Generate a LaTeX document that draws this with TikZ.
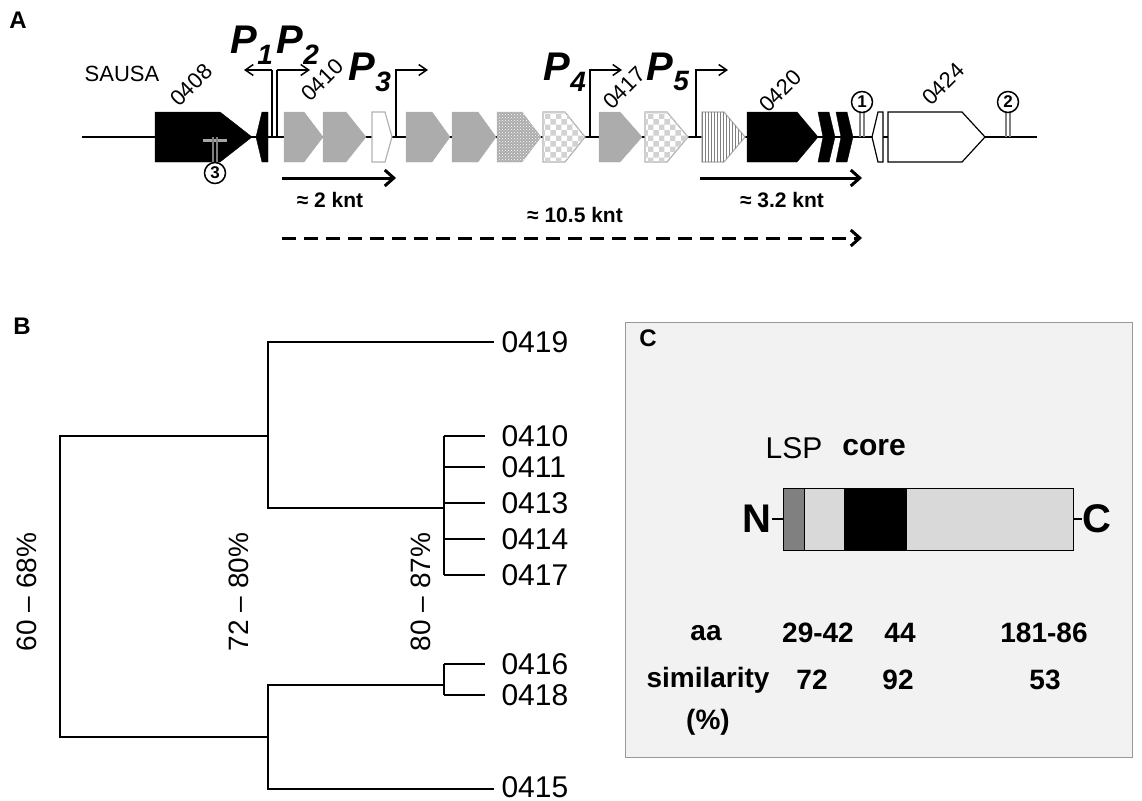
\documentclass[tikz,border=0pt]{standalone}
\usepackage{fontspec}
\setmainfont{Liberation Sans}
\usetikzlibrary{arrows.meta,patterns,positioning}
\newcommand{\fs}[1]{\fontsize{#1}{#1}\selectfont}
% gene arrow: left, body end, tip
\newcommand{\genearrow}[4]{\draw[#4] (#1,112) -- (#2,112) -- (#3,137) -- (#2,162) -- (#1,162) -- cycle;}
\newcommand{\term}[3]{%
  \draw[line width=1.2pt,gray] (#1-2,137) -- (#1-2,#2+9) (#1+2,137) -- (#1+2,#2+9);
  \node[circle,draw,line width=1.5pt,fill=white,inner sep=0pt,minimum size=21pt,font=\fs{17}\bfseries] at (#1,#2) {#3};}
\begin{document}
\begin{tikzpicture}[x=1pt,y=-1pt,>={Straight Barb[length=8pt,width=11pt]},
    gblack/.style={fill=black,draw=black},
    ggray/.style={fill=gray!65,draw=gray!65},
    gwhite/.style={fill=white,draw=black,line width=1.2pt},
    prom/.style={->,line width=1.5pt},
    tick/.style={->,line width=3pt,>={Straight Barb[length=9pt,width=16pt]}},
    leaf/.style={anchor=west,font=\fs{30}},
    pct/.style={rotate=90,font=\fs{28}},
    tab/.style={font=\fs{28}\bfseries},
    gname/.style={rotate=45,font=\fs{22}},
    pname/.style={font=\fs{40}\bfseries\itshape},
    panel/.style={font=\fs{24}\bfseries}]
\useasboundingbox (0,0) rectangle (1142,800);

% ---- A
\node[panel] (A) at (18,20) {A};
\draw[line width=1.5pt] (82,137) -- (1037,137);
\genearrow{155}{220}{252}{gblack}
\draw[gblack] (256,137) -- (262,112) -- (268,112) -- (268,162) -- (262,162) -- cycle;
\genearrow{284}{304}{323}{ggray}
\genearrow{323}{346}{366}{ggray}
\genearrow{372}{385}{392}{draw=gray!60,fill=white,line width=1.2pt}
\genearrow{406}{432}{450}{ggray}
\genearrow{452}{478}{496}{ggray}
\genearrow{497}{522}{541}{fill=gray!65,draw=gray!65,postaction={pattern=crosshatch dots,pattern color=white}}
\genearrow{543}{565}{585}{draw=gray!60,fill=white,line width=1.2pt,postaction={pattern=checkerboard,pattern color=gray!35}}
\genearrow{599}{620}{642}{ggray}
\genearrow{645}{667}{688}{draw=gray!60,fill=white,line width=1.2pt,postaction={pattern=checkerboard,pattern color=gray!35}}
\genearrow{702}{724}{745}{draw=gray!60,fill=white,line width=1.2pt,postaction={pattern=vertical lines,pattern color=gray}}
\genearrow{747}{797}{818}{gblack}
\draw[gblack] (818,112) -- (829,112) -- (835,137) -- (829,162) -- (818,162) -- (823,137) -- cycle;
\draw[gblack] (836,112) -- (847,112) -- (853,137) -- (847,162) -- (836,162) -- (841,137) -- cycle;
\draw[gwhite] (872,137) -- (878,112) -- (883,112) -- (883,162) -- (878,162) -- cycle;
\genearrow{888}{962}{985}{gwhite}
\draw[line width=3pt,gray!70] (203,140) -- (227,140);
\term{215}{173}{3}
\term{862}{102}{1}
\term{1008}{102}{2}

\draw[line width=1.5pt] (272,137) -- (272,70) (277,137) -- (277,70);
\draw[prom] (272,70) -- (244,70);
\draw[prom] (277,70) -- (310,70);
\draw[prom] (396,137) -- (396,70) -- (428,70);
\draw[prom] (590,137) -- (590,70) -- (622,70);
\draw[prom] (696,137) -- (696,70) -- (728,70);

\node[font=\fs{22}] (sausa) at (122,74) {SAUSA};
\node[gname] (g0408) at (191,85) {0408};
\node[gname] (g0410) at (322,80) {0410};
\node[gname] (g0417) at (624,88) {0417};
\node[gname] (g0420) at (780,91) {0420};
\node[gname] (g0424) at (943,84) {0424};
\node[pname] (p1) at (252,45) {P\textsubscript{1}};
\node[pname] (p2) at (298,45) {P\textsubscript{2}};
\node[pname] (p3) at (370,72) {P\textsubscript{3}};
\node[pname] (p4) at (565,72) {P\textsubscript{4}};
\node[pname] (p5) at (668,72) {P\textsubscript{5}};

\coordinate (t2a) at (282,178); \coordinate (t2b) at (396,178);
\coordinate (t3a) at (700,178); \coordinate (t3b) at (862,178);
\coordinate (tfa) at (282,238); \coordinate (tfb) at (862,238);
\draw[tick] (t2a) -- (t2b);
\draw[tick] (t3a) -- (t3b);
\draw[tick,dash pattern=on 14pt off 8pt] (tfa) -- (tfb);
\node[font=\fs{21}\bfseries] (k2) at (330,200) {≈ 2 knt};
\node[font=\fs{21}\bfseries] (k3) at (782,200) {≈ 3.2 knt};
\node[font=\fs{21}\bfseries] (kf) at (575,215) {≈ 10.5 knt};

% ---- B
\node[panel] (B) at (22,326) {B};
\draw[line width=2pt] (268,436) -- (60,436) -- (60,737) -- (268,737);
\draw[line width=1.5pt] (494,342) -- (268,342) -- (268,508) -- (444,508);
\draw[line width=1.5pt] (444,685) -- (268,685) -- (268,789) -- (494,789);
\draw[line width=1.5pt] (444,436) -- (444,575) (444,664) -- (444,695);
\foreach \y in {436,467,503,539,575,664,695}
  \draw[line width=1.5pt] (444,\y) -- (485,\y);
\node[leaf] (l0419) at (498,342) {0419};
\foreach \n/\y in {0410/436,0411/467,0413/503,0414/539,0417/575,0416/664,0418/695}
  \node[leaf] (l\n) at (498,\y) {\n};
\node[leaf] (l0415) at (498,787) {0415};
\node[pct] (r1) at (27,592) {60 – 68\%};
\node[pct] (r2) at (239,592) {72 – 80\%};
\node[pct] (r3) at (421,592) {80 – 87\%};

% ---- C
\draw[draw=gray!80,fill=gray!10,line width=1pt] (625,322) rectangle (1132,757);
\node[panel] (C) at (648,338) {C};
\draw[fill=gray!30] (783,488) rectangle (1073,550);
\draw[fill=gray] (783,488) rectangle (804,550);
\fill (844,488) rectangle (907,550);
\draw (783,488) rectangle (1073,550);
\node[font=\fs{40}\bfseries] (N) at (757,519) {N};
\node[font=\fs{40}\bfseries] (Cterm) at (1097,519) {C};
\draw[line width=2pt] (772,519) -- (783,519) (1073,519) -- (1082,519);
\node[font=\fs{30}] (lsp) at (794,448) {LSP};
\node[font=\fs{30}\bfseries] (core) at (874,448) {core};
\node[tab] (aa) at (706,633) {aa};
\node[tab] at (818,633) {29-42};
\node[tab] at (900,633) {44};
\node[tab] at (1044,633) {181-86};
\node[tab] (sim) at (708,680) {similarity};
\node[tab] at (812,680) {72};
\node[tab] at (898,680) {92};
\node[tab] at (1045,680) {53};
\node[tab] (pc) at (708,722) {(\%)};
\end{tikzpicture}
\end{document}
